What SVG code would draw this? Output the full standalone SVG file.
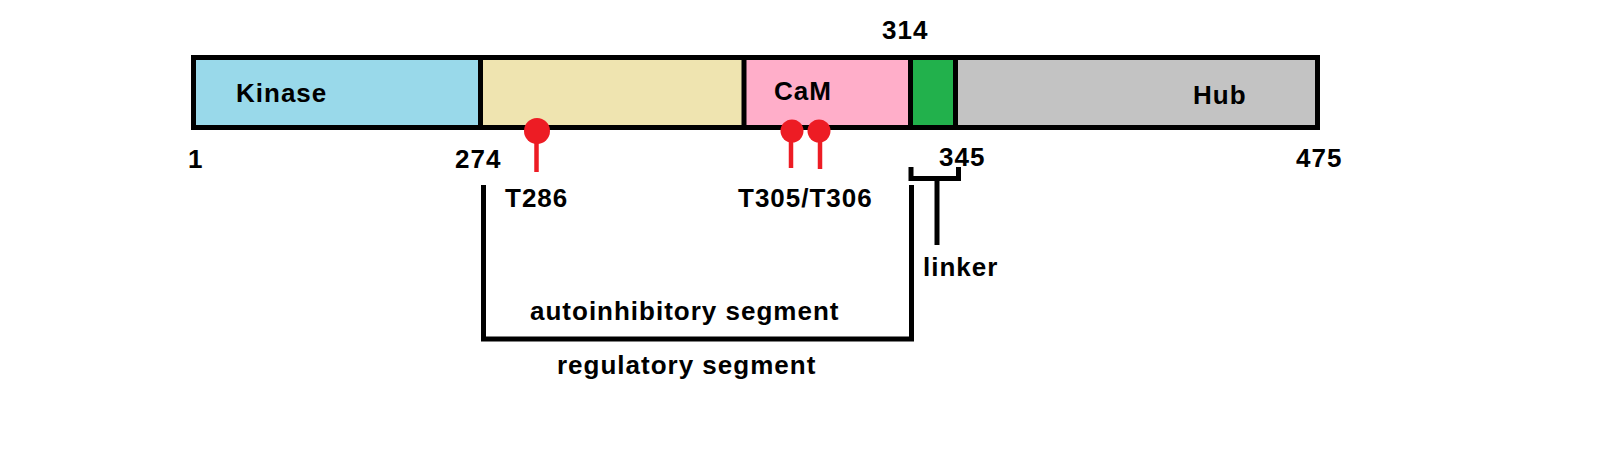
<svg xmlns="http://www.w3.org/2000/svg" width="1599" height="467" viewBox="0 0 1599 467">
<style>
text{font-family:"Liberation Sans",Arial,sans-serif;font-weight:bold;font-size:26px;letter-spacing:1px;fill:#000}
.dom{stroke:none}
.blk{stroke:#000;stroke-width:5;fill:none}
.pin{stroke:#ED1C24;stroke-width:4.5;fill:none}
.head{fill:#ED1C24}
</style>
<rect width="1599" height="467" fill="#fff"/>
<g id="protein-bar">
  <g id="kinase"><rect class="dom" x="193.5" y="57.5" width="287" height="70" fill="#99D9EA"/><text x="236" y="102">Kinase</text></g>
  <g id="autoinhibitory"><rect class="dom" x="480.5" y="57.5" width="263.5" height="70" fill="#EFE4B0"/></g>
  <g id="cam"><rect class="dom" x="744" y="57.5" width="166.5" height="70" fill="#FFAEC9"/><text x="774" y="100">CaM</text></g>
  <g id="linker-domain"><rect class="dom" x="910.5" y="57.5" width="45" height="70" fill="#22B14C"/></g>
  <g id="hub"><rect class="dom" x="955.5" y="57.5" width="362" height="70" fill="#C3C3C3"/><text x="1193" y="104">Hub</text></g>
  <rect class="blk" x="193.5" y="57.5" width="1124" height="70"/>
  <line class="blk" x1="480.5" y1="57.5" x2="480.5" y2="127.5"/>
  <line class="blk" x1="744" y1="57.5" x2="744" y2="127.5"/>
  <line class="blk" x1="910.5" y1="57.5" x2="910.5" y2="127.5"/>
  <line class="blk" x1="955.5" y1="57.5" x2="955.5" y2="127.5"/>
</g>
<g id="positions">
  <text x="188" y="168">1</text>
  <text x="455" y="168">274</text>
  <text x="882" y="39">314</text>
  <text x="939" y="166">345</text>
  <text x="1296" y="167">475</text>
</g>
<g id="site-T286">
  <line class="pin" x1="536.5" y1="131" x2="536.5" y2="172"/>
  <circle class="head" cx="537" cy="131" r="13"/>
  <text x="505" y="207">T286</text>
</g>
<g id="site-T305-T306">
  <line class="pin" x1="791" y1="131" x2="791" y2="168"/>
  <line class="pin" x1="820" y1="131" x2="820" y2="169"/>
  <circle class="head" cx="792" cy="131" r="11.5"/>
  <circle class="head" cx="819" cy="131" r="11.5"/>
  <text x="738" y="207">T305/T306</text>
</g>
<g id="connectors">
  <path class="blk" stroke-width="4.5" d="M483.5 185 V339 H911.5 V185"/>
  <path class="blk" stroke-width="4.5" d="M911 167 V178.5 H958.5 V167"/>
  <line class="blk" stroke-width="4.5" x1="937" y1="178.5" x2="937" y2="245"/>
</g>
<g id="labels">
  <text x="923" y="276">linker</text>
  <text x="530" y="320">autoinhibitory segment</text>
  <text x="557" y="374">regulatory segment</text>
</g>
</svg>
